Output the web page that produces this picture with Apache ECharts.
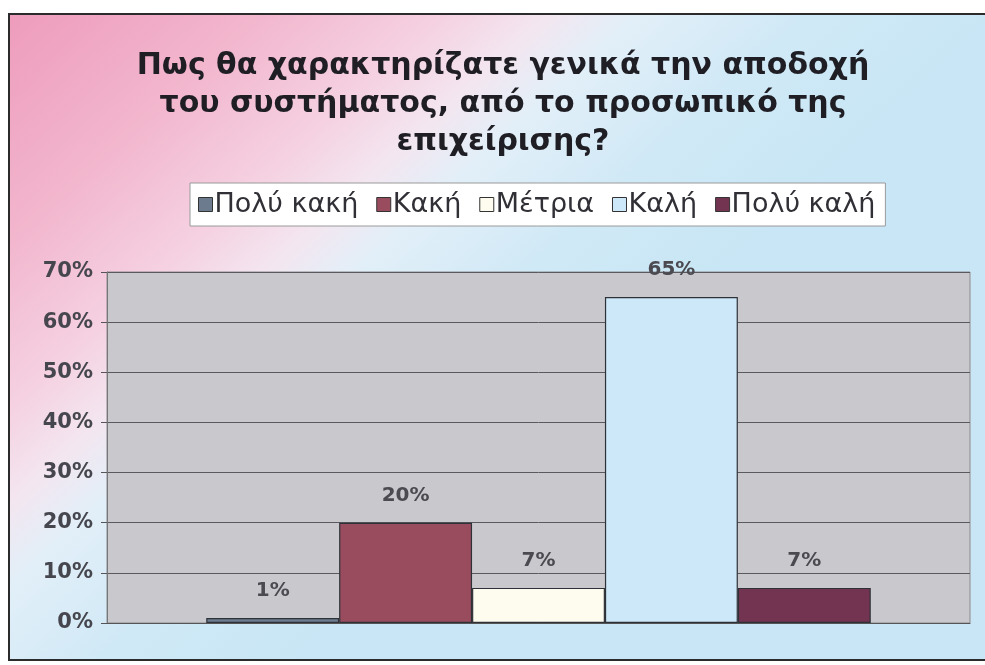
<!DOCTYPE html>
<html>
<head>
<meta charset="utf-8">
<script src="https://cdn.jsdelivr.net/npm/echarts@6/dist/echarts.min.js"></script>
<style>
  html, body { margin: 0; padding: 0; background: #ffffff; }
  #chart { width: 985px; height: 665px; }
</style>
</head>
<body>
<div id="chart"></div>
<script>
// Survey answers: how staff rated the system's acceptance
const categories = ['Αποδοχή'];
const seriesNames = ['Πολύ κακή', 'Κακή', 'Μέτρια', 'Καλή', 'Πολύ καλή'];
const seriesValues = [1, 20, 7, 65, 7];
const seriesColors = ['#6c7c8e', '#9a4c5f', '#fdfcee', '#cde8f8', '#733452'];
const yTicks = [0, 10, 20, 30, 40, 50, 60, 70];

const FONT = 'DejaVu Sans, Verdana, sans-serif';

const chart = echarts.init(document.getElementById('chart'), null, { renderer: 'canvas' });

const series = seriesNames.map((name, i) => ({
  name: name,
  type: 'bar',
  barGap: '0%',
  barCategoryGap: '23%',
  data: [seriesValues[i]],
  itemStyle: { color: seriesColors[i], borderColor: '#2e3238', borderWidth: 1.2 },
  label: {
    show: true,
    position: 'top',
    distance: 17,
    formatter: '{c}%',
    color: '#4a4a50',
    fontFamily: FONT,
    fontWeight: 'bold',
    fontSize: 20
  }
}));

chart.setOption({
  animation: false,
  backgroundColor: 'transparent',
  graphic: [
    {
      type: 'rect',
      z: -10,
      shape: { x: 9, y: 14, width: 990, height: 646 },
      style: {
        // pink in the upper-left corner fading to pale blue
        fill: new echarts.graphic.LinearGradient(9, 14, 461, 511, [
          { offset: 0, color: '#ee9cbc' },
          { offset: 0.25, color: '#f2b6cd' },
          { offset: 0.44, color: '#f5d2e2' },
          { offset: 0.54, color: '#f3e6f0' },
          { offset: 0.63, color: '#e2eff8' },
          { offset: 0.8, color: '#d0e9f6' },
          { offset: 1, color: '#c8e6f5' }
        ], true),
        stroke: '#2b2b2b',
        lineWidth: 2
      }
    }
  ],
  title: {
    text: 'Πως θα χαρακτηρίζατε γενικά την αποδοχή\nτου συστήματος, από το προσωπικό της\nεπιχείρισης?',
    left: 498,
    textAlign: 'center',
    top: 42,
    textStyle: {
      fontFamily: FONT,
      fontWeight: 'bold',
      fontSize: 30,
      lineHeight: 38,
      color: '#1e1e24'
    }
  },
  legend: {
    data: seriesNames,
    left: 190,
    top: 183,
    itemWidth: 14,
    itemHeight: 14,
    itemGap: 18,
    icon: 'rect',
    padding: [8, 10, 8, 8],
    backgroundColor: '#ffffff',
    borderColor: '#9a9a9a',
    borderWidth: 1,
    textStyle: {
      fontFamily: FONT,
      fontSize: 27,
      color: '#303036',
      padding: [0, 0, 0, -3]
    },
    itemStyle: { borderColor: '#333', borderWidth: 1 }
  },
  grid: {
    left: 107,
    right: 15,
    top: 272,
    bottom: 42,
    show: true,
    backgroundColor: '#c9c8cd',
    borderColor: '#8a8a8e',
    borderWidth: 1
  },
  xAxis: {
    type: 'category',
    data: categories,
    axisLine: { show: true, lineStyle: { color: '#555' } },
    axisTick: { show: false },
    axisLabel: { show: false }
  },
  yAxis: {
    type: 'value',
    min: yTicks[0],
    max: yTicks[yTicks.length - 1],
    interval: 10,
    axisLine: { show: true, lineStyle: { color: '#777' } },
    axisTick: { show: true, length: 6, lineStyle: { color: '#555' } },
    splitLine: { show: true, lineStyle: { color: '#5a5a5e', width: 1 } },
    axisLabel: {
      formatter: '{value}%',
      margin: 14,
      fontFamily: FONT,
      fontWeight: 'bold',
      fontSize: 21,
      color: '#46464e'
    }
  },
  series: series
});
</script>
</body>
</html>
